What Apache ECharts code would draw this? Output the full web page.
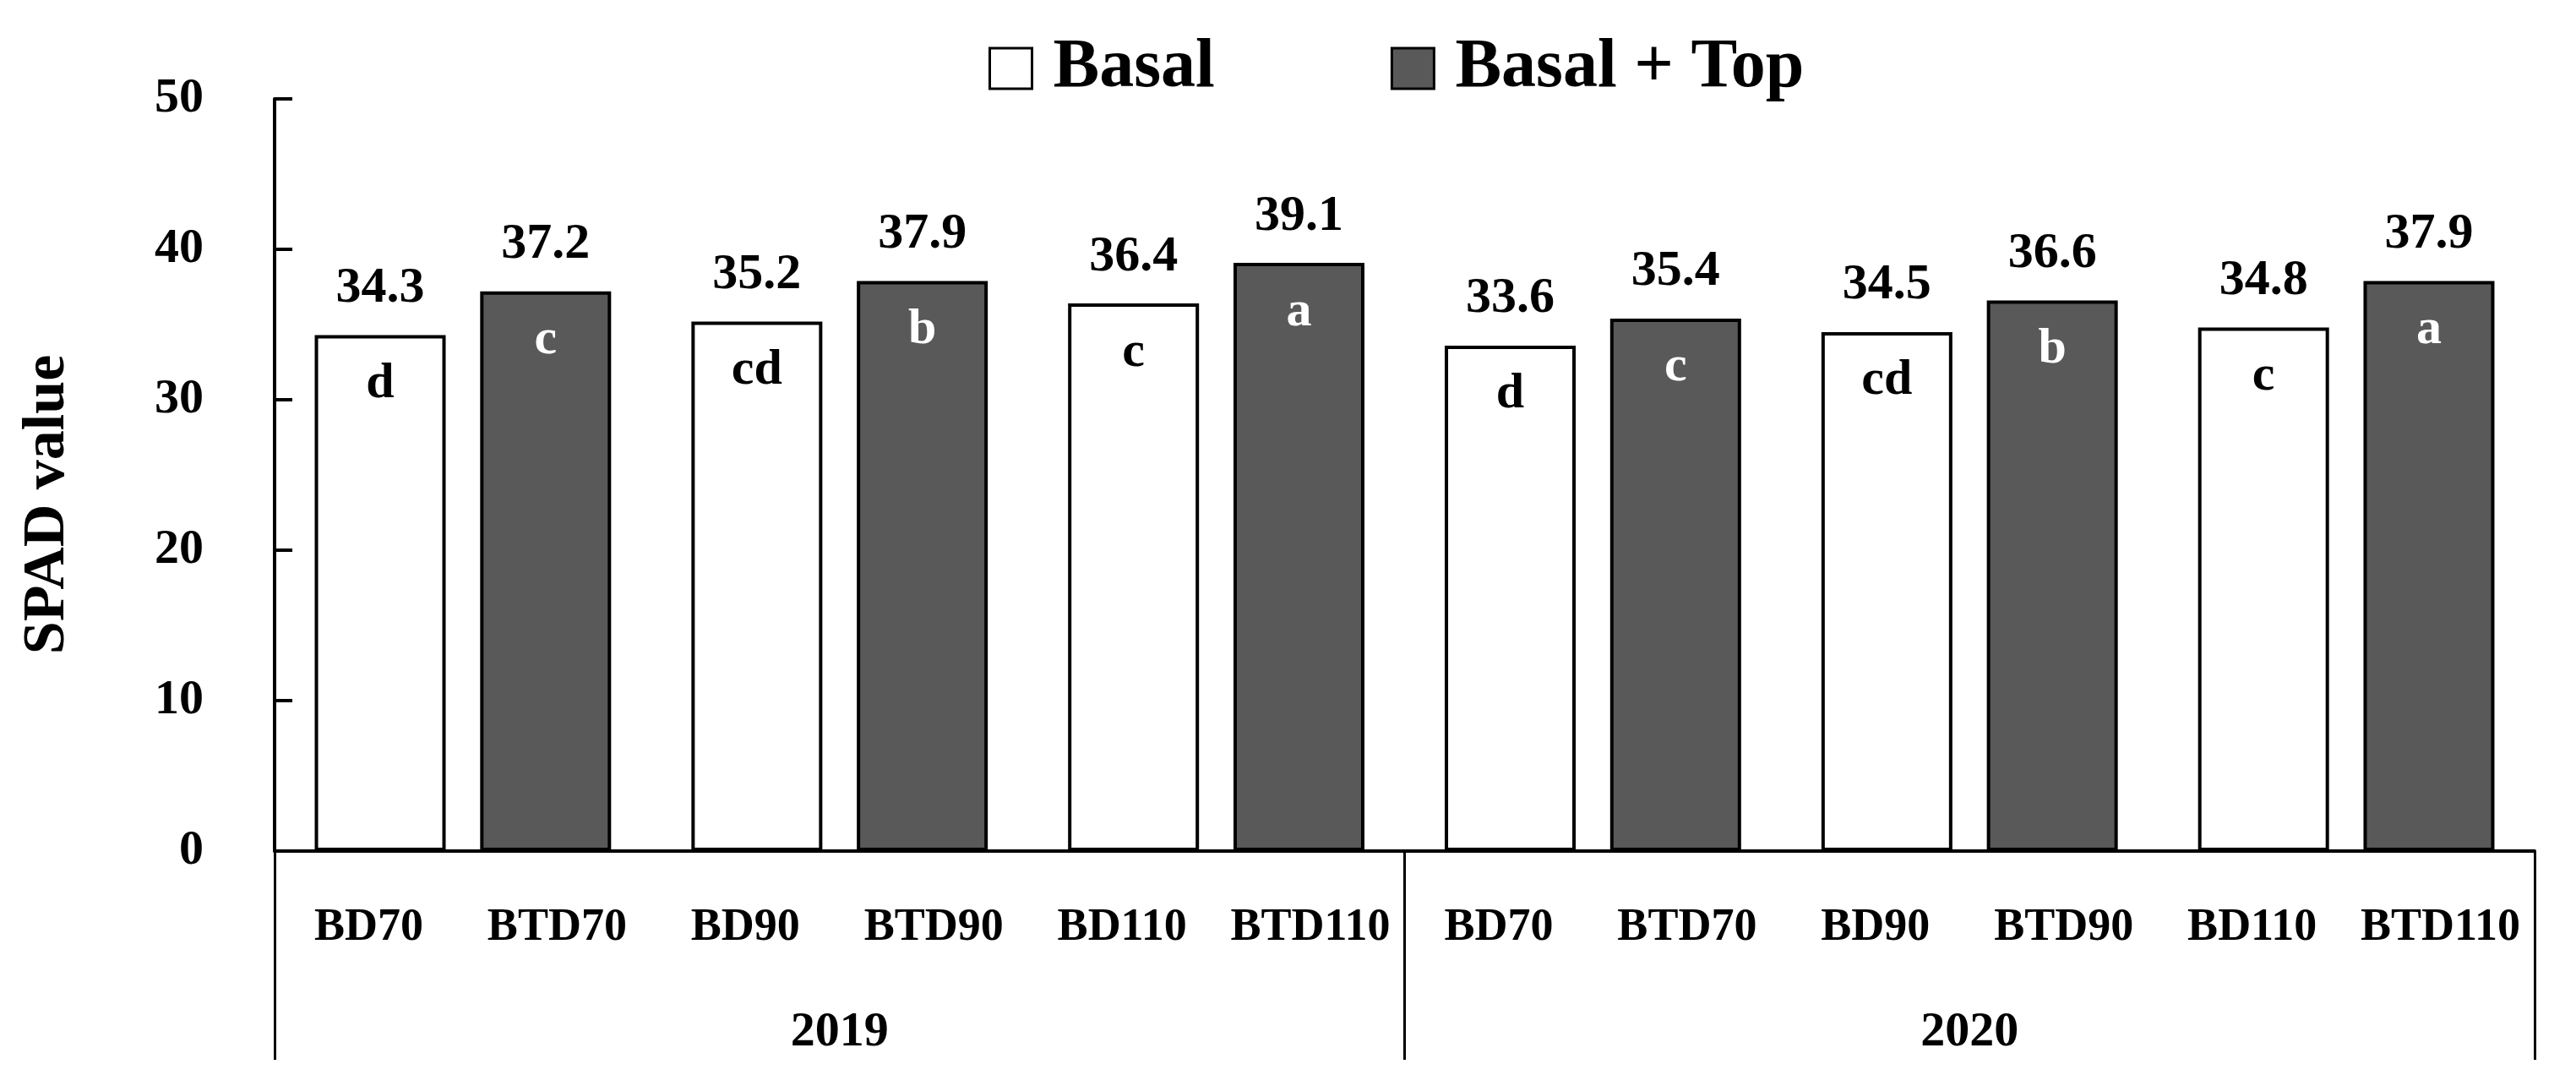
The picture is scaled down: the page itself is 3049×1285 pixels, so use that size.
<!DOCTYPE html>
<html>
<head>
<meta charset="utf-8">
<script src="https://cdn.jsdelivr.net/npm/echarts@6/dist/echarts.min.js"></script>
<style>
html,body{margin:0;padding:0;background:#fff;}
#chart{width:3049px;height:1285px;}
</style>
</head>
<body>
<div id="chart"></div>
<script>
const categories = ['BD70','BTD70','BD90','BTD90','BD110','BTD110','BD70','BTD70','BD90','BTD90','BD110','BTD110'];
const years = ['2019','2020'];
const basalValues = [34.3, null, 35.2, null, 36.4, null, 33.6, null, 34.5, null, 34.8, null];
const topValues = [null, 37.2, null, 37.9, null, 39.1, null, 35.4, null, 36.6, null, 37.9];
const basalLetters = ['d','','cd','','c','','d','','cd','','c',''];
const topLetters = ['','c','','b','','a','','c','','b','','a'];
const yTicks = {min: 0, max: 50, interval: 10};

const FONT = 'Liberation Serif';
const DARK = '#595959';
const BW = 155;
const GAP = '-82.5%';

const chart = echarts.init(document.getElementById('chart'), null, {renderer: 'canvas'});

const zeroOf = arr => arr.map(v => v == null ? null : 0);

const option = {
  backgroundColor: '#fff',
  animation: false,
  textStyle: {fontFamily: FONT, color: '#000'},
  legend: {
    data: ['Basal', 'Basal + Top'],
    left: 1170,
    top: 40,
    padding: 0,
    itemWidth: 50,
    itemHeight: 48,
    itemGap: 208,
    icon: 'rect',
    itemStyle: {borderColor: '#000', borderWidth: 3},
    textStyle: {fontFamily: FONT, fontSize: 82, fontWeight: 'bold', color: '#000', padding: [0, 0, 0, 20]}
  },
  grid: {left: 325, right: 49, top: 117, bottom: 278, containLabel: false, outerBoundsMode: 'none'},
  xAxis: [
    {
      type: 'category',
      data: categories,
      position: 'bottom',
      axisLine: {show: true, onZero: false, lineStyle: {color: '#000', width: 4}},
      axisTick: {show: false},
      axisLabel: {interval: 0, margin: 64, fontFamily: FONT, fontSize: 54, fontWeight: 'bold', color: '#000'},
      splitLine: {show: false}
    },
    {
      type: 'category',
      data: years,
      position: 'bottom',
      offset: 0,
      axisLine: {show: false},
      axisTick: {show: true, interval: 0, length: 247, inside: false, lineStyle: {color: '#000', width: 3}},
      axisLabel: {interval: 0, margin: 186, fontFamily: FONT, fontSize: 58, fontWeight: 'bold', color: '#000'},
      splitLine: {show: false}
    }
  ],
  yAxis: {
    type: 'value',
    min: yTicks.min,
    max: yTicks.max,
    interval: yTicks.interval,
    axisLine: {show: true, lineStyle: {color: '#000', width: 4}},
    axisTick: {show: true, inside: true, length: 21, lineStyle: {color: '#000', width: 4}},
    axisLabel: {margin: 84, fontFamily: FONT, fontSize: 58, fontWeight: 'bold', color: '#000'},
    splitLine: {show: false}
  },
  graphic: [{
    type: 'text',
    x: 57,
    y: 597,
    rotation: Math.PI / 2,
    style: {
      text: 'SPAD value',
      font: 'bold 70px "Liberation Serif"',
      fill: '#000',
      textAlign: 'center',
      textVerticalAlign: 'middle'
    }
  }],
  series: [
    {
      name: 'Basal + Top',
      type: 'bar',
      stack: 'top',
      data: topValues,
      barWidth: BW,
      barGap: GAP,
      itemStyle: {color: DARK, borderColor: '#000', borderWidth: 4},
      label: {
        show: true, position: 'top', distance: 25,
        fontFamily: FONT, fontSize: 60, fontWeight: 'bold', color: '#000',
        formatter: p => p.value == null ? '' : Number(p.value).toFixed(1)
      }
    },
    {
      name: 'Basal',
      type: 'bar',
      stack: 'basal',
      data: basalValues,
      barWidth: BW,
      barGap: GAP,
      itemStyle: {color: '#ffffff', borderColor: '#000', borderWidth: 4},
      label: {
        show: true, position: 'top', distance: 25,
        fontFamily: FONT, fontSize: 60, fontWeight: 'bold', color: '#000',
        formatter: p => p.value == null ? '' : Number(p.value).toFixed(1)
      }
    },
    {
      name: 'TopLetters',
      type: 'bar',
      stack: 'top',
      data: zeroOf(topValues),
      barWidth: BW,
      barGap: GAP,
      silent: true,
      itemStyle: {color: 'rgba(0,0,0,0)', borderWidth: 0},
      label: {
        show: true, position: 'insideTop', distance: 28,
        fontFamily: FONT, fontSize: 60, fontWeight: 'bold', color: '#fff',
        formatter: p => topLetters[p.dataIndex]
      }
    },
    {
      name: 'BasalLetters',
      type: 'bar',
      stack: 'basal',
      data: zeroOf(basalValues),
      barWidth: BW,
      barGap: GAP,
      silent: true,
      itemStyle: {color: 'rgba(0,0,0,0)', borderWidth: 0},
      label: {
        show: true, position: 'insideTop', distance: 28,
        fontFamily: FONT, fontSize: 60, fontWeight: 'bold', color: '#000',
        formatter: p => basalLetters[p.dataIndex]
      }
    }
  ]
};

chart.setOption(option);
</script>
</body>
</html>
